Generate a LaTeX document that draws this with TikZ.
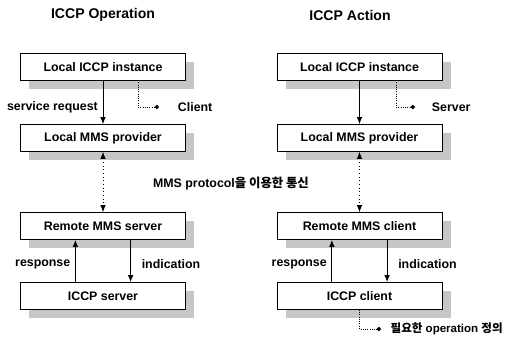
\documentclass[tikz,border=0pt]{standalone}
\usepackage{fontspec}
\setmainfont{Liberation Sans}
\newfontfamily\krfont{Noto Sans CJK KR}
\usetikzlibrary{arrows.meta,shadows}

\tikzset{
  box/.style={draw, line width=0.5pt, fill=white, minimum width=4.125cm, minimum height=0.675cm,
    drop shadow={shadow xshift=0.22cm, shadow yshift=-0.2cm, fill=gray!45, opacity=1},
    font=\bfseries\fontsize{8.8}{10}\selectfont},
  lbl/.style={font=\bfseries\fontsize{8.8}{10}\selectfont},
  ttl/.style={font=\bfseries\fontsize{10}{12}\selectfont},
  flow/.style={line width=0.7pt, -{Latex[length=5pt,width=4pt]}},
  talk/.style={line width=0.6pt, dotted, {Latex[length=5pt,width=4pt]}-{Latex[length=5pt,width=4pt]}},
  note/.style={line width=0.6pt, densely dotted, -{Circle[length=3pt]}},
}

\begin{document}
\begin{tikzpicture}[x=0.025cm, y=-0.025cm]
    \useasboundingbox (0,0) rectangle (513,336);
    % ICCP Operation
    \node[ttl] (optitle) at (103,15) {ICCP Operation};
    \node[box] (opinst) at (103,67) {Local ICCP instance};
    \node[box] (opprov) at (103,138) {Local MMS provider};
    \node[box] (opserver) at (103,226) {Remote MMS server};
    \node[box] (opiccp) at (103,296) {ICCP server};
    \draw [flow] (opinst) to node[lbl, left, pos=0.6] {service request} (opprov);
    \coordinate (opnote) at (138,80);
    \coordinate (opdot) at (159,107);
    \node[lbl, anchor=west] (client) at (173,107) {Client};
    \draw [note] (opnote) |- (opdot);
    \draw [talk] (opprov) to (opserver);
    \draw [flow] ([xshift=-0.69cm]opiccp.north) to node[lbl, left, pos=0.42] {response} ([xshift=-0.69cm]opserver.south);
    \draw [flow] ([xshift=0.69cm]opserver.south) to node[lbl, right, pos=0.58, xshift=0.15cm] {indication} ([xshift=0.69cm]opiccp.north);
    % ICCP Action
    \node[ttl] (actitle) at (350,15) {ICCP Action};
    \node[box] (acinst) at (359.5,67) {Local ICCP instance};
    \node[box] (acprov) at (359.5,138) {Local MMS provider};
    \node[box] (acclient) at (359.5,226) {Remote MMS client};
    \node[box] (aciccp) at (359.5,296) {ICCP client};
    \draw [flow] (acinst) to (acprov);
    \coordinate (acnote) at (396,80);
    \coordinate (acsrv) at (415,107);
    \node[lbl, anchor=west] (server) at (427,107) {Server};
    \draw [note] (acnote) |- (acsrv);
    \draw [talk] (acprov) to (acclient);
    \draw [flow] ([xshift=-0.69cm]aciccp.north) to node[lbl, left, pos=0.42] {response} ([xshift=-0.69cm]acclient.south);
    \draw [flow] ([xshift=0.69cm]acclient.south) to node[lbl, right, pos=0.58, xshift=0.15cm] {indication} ([xshift=0.69cm]aciccp.north);
    \coordinate (acdot) at (381,329);
    \node[anchor=west, inner sep=1pt, font=\bfseries\fontsize{8.2}{10}\selectfont] (define) at (389,329) {{\krfont 필요한} operation {\krfont 정의}};
    \draw [note] (aciccp.south) |- (acdot);
    % MMS link
    \node[lbl] (mmslink) at (231,184) {MMS protocol{\krfont 을 이용한 통신}};
\end{tikzpicture}
\end{document}
